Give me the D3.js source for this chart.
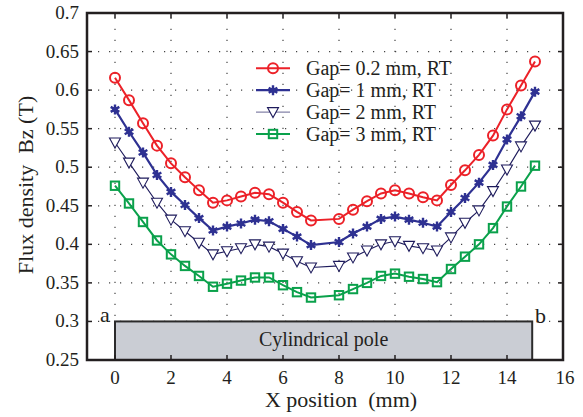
<!DOCTYPE html>
<html><head><meta charset="utf-8">
<script src="https://cdn.jsdelivr.net/npm/d3@7"></script>
</head><body style="margin:0">
<svg id="c" width="583" height="417" style="display:block;font-family:'Times New Roman',Times,Tinos,'Liberation Serif',serif"></svg>
<script>
const xPos = [0,0.5,1,1.5,2,2.5,3,3.5,4,4.5,5,5.5,6,6.5,7,8,8.5,9,9.5,10,10.5,11,11.5,12,12.5,13,13.5,14,14.5,15];
const gap02 = [0.616,0.587,0.557,0.528,0.505,0.487,0.470,0.454,0.457,0.462,0.467,0.465,0.454,0.442,0.431,0.433,0.445,0.456,0.466,0.470,0.466,0.461,0.457,0.477,0.496,0.516,0.541,0.575,0.606,0.637];
const gap1 = [0.575,0.546,0.519,0.490,0.468,0.451,0.434,0.418,0.423,0.427,0.432,0.430,0.420,0.410,0.399,0.403,0.414,0.423,0.433,0.436,0.432,0.428,0.423,0.442,0.460,0.480,0.503,0.536,0.566,0.598];
const gap2 = [0.532,0.506,0.480,0.454,0.432,0.417,0.402,0.387,0.391,0.395,0.400,0.397,0.388,0.378,0.370,0.372,0.383,0.392,0.400,0.404,0.398,0.395,0.392,0.409,0.428,0.444,0.469,0.497,0.527,0.554];
const gap3 = [0.476,0.453,0.429,0.405,0.387,0.372,0.359,0.345,0.349,0.353,0.357,0.357,0.347,0.338,0.331,0.334,0.342,0.350,0.359,0.362,0.358,0.355,0.351,0.368,0.384,0.400,0.421,0.449,0.475,0.502];
const seriesNames = ["Gap= 0.2 mm, RT","Gap= 1 mm, RT","Gap= 2 mm, RT","Gap= 3 mm, RT"];
const xTicks = [0,2,4,6,8,10,12,14,16];
const yTicks = [0.25,0.3,0.35,0.4,0.45,0.5,0.55,0.6,0.65,0.7];
const xGrid = [0,2,4,6,8,10,12,14];
const yGrid = [0.3,0.35,0.4,0.45,0.5,0.55,0.6,0.65];
const pole = {x0:0, x1:14.9, y0:0.25, y1:0.3, label:"Cylindrical pole"};
const xLabel = "X position\u00A0 (mm)";
const yLabel = "Flux density\u00A0 Bz (T)";

const svg = d3.select("#c");
const TXT = "#231f20";
const L=87,R=563,T=13,B=360;
const x = d3.scaleLinear().domain([-1,16]).range([L,R]);
const y = d3.scaleLinear().domain([0.25,0.7]).range([B,T]);
function txt(px,py,s,size,anchor){
  return svg.append("text").attr("x",px).attr("y",py).attr("font-size",size)
    .attr("fill",TXT).attr("text-anchor",anchor||"start").text(s);
}

// grid
const g = svg.append("g").attr("stroke","#444").attr("stroke-width",1.2).attr("stroke-dasharray","1.2,9.8");
xGrid.forEach(v=>g.append("line").attr("x1",x(v)).attr("x2",x(v)).attr("y1",B).attr("y2",T));
yGrid.forEach(v=>g.append("line").attr("x1",L).attr("x2",R).attr("y1",y(v)).attr("y2",y(v)));

// pole
svg.append("rect").attr("x",x(pole.x0)).attr("y",y(pole.y1)).attr("width",x(pole.x1)-x(pole.x0)).attr("height",y(pole.y0)-y(pole.y1))
  .attr("fill","#cacdd4").attr("stroke","#2b2b2b").attr("stroke-width",2);
txt((x(pole.x0)+x(pole.x1))/2,346,pole.label,20,"middle");
txt(100,322,"a",22);
txt(535,323,"b",22);

// markers
function marker(sel, type, color){
  if(type==="circle") sel.append("circle").attr("r",5).attr("fill","none").attr("stroke",color).attr("stroke-width",2);
  if(type==="star"){
    sel.append("path").attr("d",d3.symbol(d3.symbolAsterisk,70)()).attr("stroke",color).attr("stroke-width",2.4).attr("fill","none");
    sel.append("circle").attr("r",2.6).attr("fill",color);
  }
  if(type==="tri") sel.append("path").attr("d","M-5.5,-4.5L5.5,-4.5L0,5.5Z").attr("fill","#fff").attr("stroke",color).attr("stroke-width",1.1);
  if(type==="sq") sel.append("rect").attr("x",-4.2).attr("y",-4.2).attr("width",8.4).attr("height",8.4).attr("fill","none").attr("stroke",color).attr("stroke-width",2);
}
const series = [
  {vals:gap02,color:"#ec2128",lw:2,type:"circle",lcol:"#ec2128"},
  {vals:gap1,color:"#2e3192",lw:2.2,type:"star",lcol:"#2e3192"},
  {vals:gap2,color:"#1e1b5c",lw:1.1,type:"tri",lcol:"#8583a8"},
  {vals:gap3,color:"#0aa14b",lw:2,type:"sq",lcol:"#0aa14b"}
];
const line = d3.line().x(d=>x(d[0])).y(d=>y(d[1]));
series.forEach(s=>{
  const pts = xPos.map((v,i)=>[v,s.vals[i]]);
  svg.append("path").attr("d",line(pts)).attr("fill","none").attr("stroke",s.color).attr("stroke-width",s.lw);
  pts.forEach(p=>{ const m=svg.append("g").attr("transform",`translate(${x(p[0])},${y(p[1])})`); marker(m,s.type,s.color); });
});

// legend
series.forEach((s,i)=>{
  const yy = 68.3 + i*21.9;
  svg.append("line").attr("x1",256).attr("x2",290).attr("y1",yy).attr("y2",yy).attr("stroke",s.lcol).attr("stroke-width",s.lw);
  const m=svg.append("g").attr("transform",`translate(273,${yy})`); marker(m,s.type,s.color);
  txt(306,yy+7,seriesNames[i],20);
});

// frame + ticks
svg.append("rect").attr("x",L).attr("y",T).attr("width",R-L).attr("height",B-T).attr("fill","none").attr("stroke",TXT).attr("stroke-width",2.5);
const tk = svg.append("g").attr("stroke",TXT).attr("stroke-width",1.5);
xTicks.forEach(v=>{
  tk.append("line").attr("x1",x(v)).attr("x2",x(v)).attr("y1",B).attr("y2",B-5);
  tk.append("line").attr("x1",x(v)).attr("x2",x(v)).attr("y1",T).attr("y2",T+5);
  txt(x(v)+(v===16?2:0),384,String(v),19,"middle");
});
yTicks.forEach(v=>{
  tk.append("line").attr("x1",L).attr("x2",L+5).attr("y1",y(v)).attr("y2",y(v));
  tk.append("line").attr("x1",R).attr("x2",R-5).attr("y1",y(v)).attr("y2",y(v));
  txt(79,y(v)+6,String(v),19,"end");
});
txt(341,407,xLabel,22,"middle");
txt(0,0,yLabel,22,"middle").attr("x",null).attr("y",null).attr("transform","translate(33,185) rotate(-90)");
</script></body></html>
